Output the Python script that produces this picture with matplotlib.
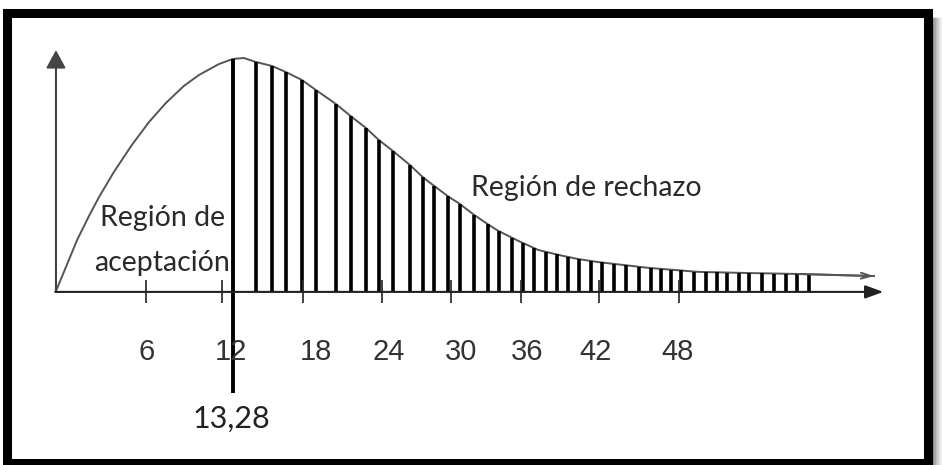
import numpy as np
import matplotlib
matplotlib.use('Agg')
import matplotlib.pyplot as plt
from matplotlib.patches import Rectangle

# hand drawn chi-square style curve (x in chi units, y relative height)
curve_x = [0.0, 0.60, 1.58, 2.48, 3.23, 4.35, 5.70, 6.98, 8.25, 9.60, 10.73, 12.23,
           13.28, 14.10, 15.0, 16.2, 17.25, 18.45, 19.5, 21.0, 22.2, 23.26, 24.23,
           25.2, 26.56, 27.6, 28.5, 29.5, 30.2, 31.4, 32.5, 33.2, 34.7, 36.2, 37.7,
           39.2, 40.7, 44.5, 48.2, 52.0, 55.7, 61.4]
curve_y = [0.0, 0.082, 0.218, 0.322, 0.403, 0.511, 0.627, 0.725, 0.807, 0.880, 0.927, 0.974,
           0.996, 1.0, 0.983, 0.966, 0.940, 0.906, 0.863, 0.803, 0.747, 0.700, 0.648,
           0.605, 0.541, 0.485, 0.446, 0.403, 0.378, 0.326, 0.283, 0.258, 0.215, 0.176, 0.155,
           0.137, 0.124, 0.099, 0.082, 0.077, 0.073, 0.064]

# vertical hatching of the rejection region
hatch_x = [15.00, 16.20, 17.25, 18.45, 19.50, 21.00, 22.13, 23.26, 24.23, 25.28,
           26.56, 27.53, 28.36, 29.41, 30.31, 31.36, 32.41, 33.23, 34.21, 35.03,
           35.86, 36.76, 37.58, 38.41, 39.23, 40.14, 40.96, 41.86, 42.76, 43.74,
           44.64, 45.39, 46.14, 46.89, 47.86, 48.76, 49.59, 50.34, 51.24, 51.99,
           52.96, 53.86, 54.76, 55.59, 56.49]

critical = 13.28
critical_label = "13,28"

tick_labels = ["6", "12", "18", "24", "30", "36", "42", "48"]
tick_pos = [6.75, 12.45, 18.53, 24.46, 29.63, 34.88, 40.74, 46.74]
label_pos = [6.83, 13.13, 19.50, 24.98, 30.38, 35.33, 40.50, 46.67]

fig = plt.figure(figsize=(9.42, 4.65), dpi=100)
ax = fig.add_axes([0, 0, 1, 1])
ax.set_xlim(-4.2, 66.5)
ax.set_ylim(-0.747, 1.249)
ax.axis('off')

# frame with shadow on the right
for i, g in enumerate([0.55, 0.65, 0.75, 0.85, 0.93]):
    fig.patches.append(Rectangle((932 / 942 + i * 2 / 942, 0), 2 / 942, 1 - 18 / 465,
                                 transform=fig.transFigure, color=str(g), zorder=0))
fig.patches.append(Rectangle((6.5 / 942, 2 / 465), 921 / 942, 450 / 465,
                             transform=fig.transFigure, fill=False, lw=6.5,
                             edgecolor='black', zorder=10))

axis_col = '#444444'
# axes with arrows
ax.annotate('', xy=(0, 1.034), xytext=(0, -0.004),
            arrowprops=dict(arrowstyle='-|>,head_length=0.55,head_width=0.3',
                            mutation_scale=20, color=axis_col, lw=1.5,
                            shrinkA=0, shrinkB=0))
ax.annotate('', xy=(62.1, -0.004), xytext=(-0.05, -0.004),
            arrowprops=dict(arrowstyle='-|>,head_length=0.55,head_width=0.2',
                            mutation_scale=20, color='#222222', lw=1.5,
                            shrinkA=0, shrinkB=0))

# curve
ax.plot(curve_x, curve_y, color='#555555', lw=1.4, solid_joinstyle='round')
ax.annotate('', xy=(curve_x[-1], curve_y[-1]), xytext=(curve_x[-2], curve_y[-2]),
            arrowprops=dict(arrowstyle='->,head_length=0.5,head_width=0.15',
                            mutation_scale=14, color='#555555', lw=1.4,
                            shrinkA=0, shrinkB=0))

# hatch lines up to the curve
hatch_top = np.interp(hatch_x, curve_x, curve_y)
ax.vlines(hatch_x, 0, hatch_top, color='black', lw=2.6)

# critical value line
ax.vlines(critical, -0.438, np.interp(critical, curve_x, curve_y), color='black', lw=2.8)

# ticks
ax.vlines(tick_pos, -0.052, 0.047, color='#333333', lw=1.3)
for p, t in zip(label_pos, tick_labels):
    ax.text(p, -0.262, t, ha='center', va='center', fontsize=21,
            family='Liberation Sans', color='#333333')

ax.text(critical - 0.1, -0.548, critical_label, ha='center', va='center',
        fontsize=22, family='Lato', color='#222222')

ax.text(8.0, 0.312, "Región de", ha='center', va='center', fontsize=20.5,
        family='Lato', color='#2a2a2a')
ax.text(8.0, 0.118, "aceptación", ha='center', va='center', fontsize=20.5,
        family='Lato', color='#2a2a2a')
ax.text(39.8, 0.44, "Región de rechazo", ha='center', va='center', fontsize=20.5,
        family='Lato', color='#2a2a2a')

fig.savefig('out.png', dpi=100)
